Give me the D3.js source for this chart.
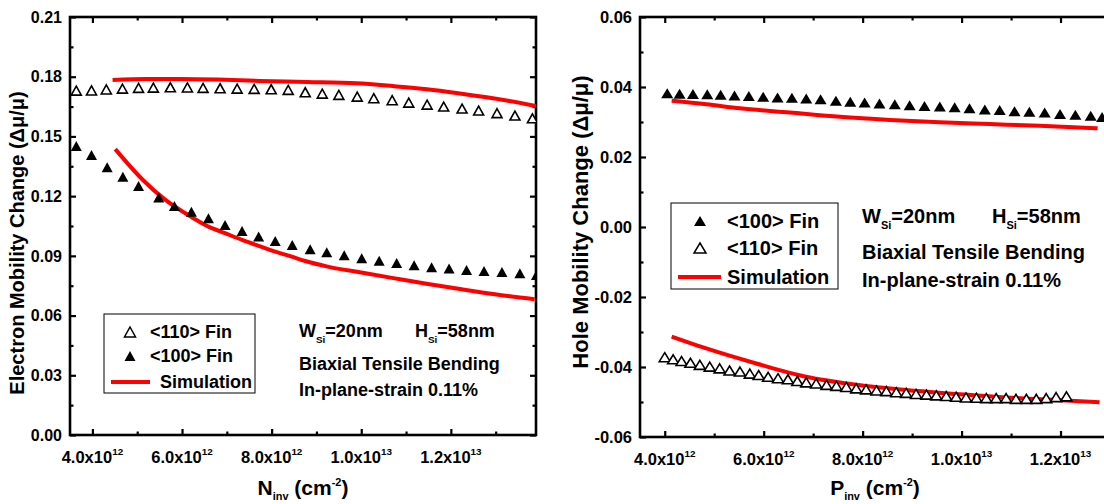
<!DOCTYPE html>
<html><head><meta charset="utf-8">
<script src="https://cdn.jsdelivr.net/npm/d3@7"></script>
<style>
body{margin:0;background:#fff;}
svg{display:block;font-family:"Liberation Sans",Arial,Helvetica,sans-serif;font-weight:bold;}
</style></head>
<body><svg id="c" width="1104" height="504"></svg>
<script>
// ---------------- DATA ----------------
const xTicks = [4e12, 6e12, 8e12, 1e13, 1.2e13];
const xTickMantissa = ["4.0x10", "6.0x10", "8.0x10", "1.0x10", "1.2x10"];
const xTickExponent = ["12", "12", "12", "13", "13"];
const xMinorTicks = [5e12, 7e12, 9e12, 1.1e13, 1.3e13];

const leftYTicks = [0.00, 0.03, 0.06, 0.09, 0.12, 0.15, 0.18, 0.21];
const leftYMinor = [0.015, 0.045, 0.075, 0.105, 0.135, 0.165, 0.195];
const rightYTicks = [-0.06, -0.04, -0.02, 0.00, 0.02, 0.04, 0.06];
const rightYMinor = [-0.05, -0.03, -0.01, 0.01, 0.03, 0.05];

// Left panel (electron), x in units of 1e12 cm^-2
const leftOpenX = [3.64,3.98,4.31,4.67,5.03,5.36,5.74,6.12,6.47,6.85,7.23,7.61,7.99,8.37,8.75,9.13,9.50,9.91,10.28,10.69,11.06,11.47,11.84,12.25,12.62,13.03,13.43,13.82];
const leftOpenY = [0.1730,0.1731,0.1736,0.1740,0.1744,0.1745,0.1747,0.1746,0.1744,0.1742,0.1740,0.1739,0.1737,0.1734,0.1722,0.1715,0.1709,0.1700,0.1692,0.1682,0.1670,0.1660,0.1650,0.1640,0.1630,0.1617,0.1605,0.1591];
const leftFilledX = [3.64,3.98,4.33,4.68,5.03,5.48,5.83,6.21,6.59,6.96,7.34,7.71,8.08,8.46,8.86,9.23,9.62,10.01,10.40,10.79,11.18,11.57,11.96,12.35,12.74,13.14,13.54,13.91];
const leftFilledY = [0.1452,0.1407,0.1345,0.1298,0.1251,0.1193,0.1151,0.1121,0.1089,0.1055,0.1025,0.0997,0.0975,0.0955,0.0933,0.0918,0.0903,0.0888,0.0876,0.0864,0.0853,0.0843,0.0836,0.0829,0.0824,0.0819,0.0813,0.0804];
const leftSimUpperX = [4.45,5.2,5.96,6.8,7.74,8.8,9.9,10.7,11.47,12.2,12.94,13.9];
const leftSimUpperY = [0.1784,0.1788,0.1789,0.1786,0.1779,0.1774,0.1767,0.1753,0.1737,0.1716,0.1692,0.1653];
const leftSimLowerX = [4.51,5.11,5.63,6.22,6.59,6.96,7.34,7.71,8.08,8.45,8.75,9.25,10.0,10.75,11.49,12.24,12.98,13.87];
const leftSimLowerY = [0.1436,0.1285,0.1181,0.1094,0.1047,0.1014,0.0980,0.0950,0.0921,0.0896,0.0874,0.0846,0.0816,0.0787,0.0759,0.0732,0.0707,0.0682];

// Right panel (hole)
const rightFilledX = [4.05,4.30,4.57,4.86,5.13,5.41,5.70,5.99,6.28,6.57,6.86,7.15,7.46,7.75,8.04,8.34,8.65,8.95,9.25,9.56,9.86,10.16,10.47,10.77,11.07,11.37,11.68,11.99,12.30,12.61,12.84];
const rightFilledY = [0.0382,0.0381,0.0380,0.0379,0.0378,0.0376,0.0374,0.0372,0.0370,0.0369,0.0367,0.0365,0.0361,0.0358,0.0356,0.0353,0.0351,0.0348,0.0346,0.0344,0.0342,0.0339,0.0336,0.0334,0.0331,0.0329,0.0327,0.0323,0.0321,0.0318,0.0314];
const rightOpenX = [4.00,4.17,4.34,4.52,4.71,4.91,5.11,5.31,5.52,5.72,5.90,6.09,6.29,6.49,6.68,6.86,7.06,7.27,7.47,7.67,7.87,8.07,8.28,8.48,8.68,8.88,9.08,9.29,9.49,9.69,9.89,10.09,10.30,10.50,10.70,10.90,11.10,11.31,11.51,11.71,11.91,12.12];
const rightOpenY = [-0.0372,-0.0378,-0.0383,-0.0388,-0.0394,-0.0399,-0.0404,-0.0410,-0.0413,-0.0419,-0.0423,-0.0428,-0.0432,-0.0435,-0.0440,-0.0444,-0.0447,-0.0451,-0.0454,-0.0457,-0.0461,-0.0464,-0.0467,-0.0469,-0.0472,-0.0474,-0.0477,-0.0479,-0.0481,-0.0483,-0.0485,-0.0487,-0.0488,-0.0489,-0.0489,-0.0489,-0.0491,-0.0491,-0.0491,-0.0489,-0.0486,-0.0484];
const rightSimUpperX = [4.14,4.84,5.52,6.53,7.54,8.55,9.56,10.57,11.58,12.75];
const rightSimUpperY = [0.0361,0.0351,0.0339,0.0327,0.0315,0.0306,0.0299,0.0294,0.0289,0.0282];
const rightSimLowerX = [4.14,4.84,5.85,6.86,7.87,8.88,9.89,10.90,11.91,12.79];
const rightSimLowerY = [-0.0313,-0.0347,-0.0390,-0.0428,-0.0451,-0.0466,-0.0477,-0.0487,-0.0494,-0.0501];

const legendLeft = ["<110> Fin", "<100> Fin", "Simulation"];
const legendRight = ["<100> Fin", "<110> Fin", "Simulation"];
const noteLine2 = "Biaxial Tensile Bending";
const noteLine3 = "In-plane-strain 0.11%";

// ---------------- DRAW ----------------
const svg = d3.select("#c");
const RED = "#ff0000";
const E12 = 1e12;

function triPath(w, h) {
  return `M0,${-h/2}L${w/2},${h/2}L${-w/2},${h/2}Z`;
}

function drawPanel(p) {
  const x = d3.scaleLinear().domain(p.xDomain).range([p.left, p.right]);
  const y = d3.scaleLinear().domain(p.yDomain).range([p.bottom, p.top]);
  const g = svg.append("g");
  const fs = p.tickFont;

  // inward ticks, all four sides
  const majorLen = 6, minorLen = 3.5;
  const mk = (axis, tr, vals, len) => {
    const a = g.append("g").attr("transform", tr)
      .call(axis.tickValues(vals).tickSize(-len).tickSizeOuter(0).tickFormat(""));
    a.select(".domain").remove();
    a.selectAll("line").attr("stroke", "#000").attr("stroke-width", 2.2);
  };
  mk(d3.axisBottom(x), `translate(0,${p.bottom})`, xTicks, majorLen);
  mk(d3.axisBottom(x), `translate(0,${p.bottom})`, xMinorTicks, minorLen);
  mk(d3.axisTop(x), `translate(0,${p.top})`, xTicks, majorLen);
  mk(d3.axisTop(x), `translate(0,${p.top})`, xMinorTicks, minorLen);
  mk(d3.axisLeft(y), `translate(${p.left},0)`, p.yTicks, majorLen);
  mk(d3.axisLeft(y), `translate(${p.left},0)`, p.yMinor, minorLen);
  mk(d3.axisRight(y), `translate(${p.right},0)`, p.yTicks, majorLen);
  mk(d3.axisRight(y), `translate(${p.right},0)`, p.yMinor, minorLen);

  // frame
  g.append("rect").attr("x", p.left).attr("y", p.top)
    .attr("width", p.right - p.left).attr("height", p.bottom - p.top)
    .attr("fill", "none").attr("stroke", "#000").attr("stroke-width", 2.6);

  // y tick labels
  g.selectAll(".yl").data(p.yTicks).join("text")
    .attr("x", p.left - 8).attr("y", d => y(d) + fs * 0.36)
    .attr("text-anchor", "end").attr("font-size", fs)
    .text(d => d3.format(".2f")(d).replace("−", "-"));

  // x tick labels with superscripts
  const xfs = p.xTickFont;
  xTicks.forEach((v, i) => {
    const t = g.append("text").attr("x", x(v)).attr("y", p.bottom + 28)
      .attr("text-anchor", "middle").attr("font-size", xfs);
    t.append("tspan").text(xTickMantissa[i]);
    t.append("tspan").attr("font-size", xfs * 0.6).attr("dy", -xfs * 0.5).text(xTickExponent[i]);
  });

  // axis titles
  const xt = g.append("text").attr("x", (p.left + p.right) / 2).attr("y", p.xTitleY)
    .attr("text-anchor", "middle").attr("font-size", p.xTitleFont);
  xt.append("tspan").text(p.xTitleLetter);
  xt.append("tspan").attr("font-size", p.xTitleFont * 0.52).attr("dy", 5).text("inv");
  xt.append("tspan").attr("dy", -5).text(" (cm");
  xt.append("tspan").attr("font-size", p.xTitleFont * 0.52).attr("dy", -9).text("-2");
  xt.append("tspan").attr("dy", 9).text(")");

  g.append("text").attr("transform", `translate(${p.yTitleX},${p.yTitleY}) rotate(-90)`)
    .attr("text-anchor", "middle").attr("font-size", p.titleFont).text(p.yTitle);

  // clip
  const cid = "clip" + p.id;
  svg.append("clipPath").attr("id", cid).append("rect")
    .attr("x", p.left).attr("y", p.top).attr("width", p.right - p.left).attr("height", p.bottom - p.top);
  const plot = g.append("g").attr("clip-path", `url(#${cid})`);

  const line = d3.line().curve(d3.curveMonotoneX).x(d => x(d[0] * E12)).y(d => y(d[1]));
  p.sims.forEach(s => {
    plot.append("path").datum(d3.zip(s[0], s[1])).attr("d", line)
      .attr("fill", "none").attr("stroke", RED).attr("stroke-width", 4);
  });
  p.filled.forEach(s => {
    plot.selectAll(null).data(d3.zip(s[0], s[1])).join("path")
      .attr("d", triPath(s[2], s[3]))
      .attr("transform", d => `translate(${x(d[0] * E12)},${y(d[1])})`)
      .attr("fill", "#000");
  });
  p.open.forEach(s => {
    plot.selectAll(null).data(d3.zip(s[0], s[1])).join("path")
      .attr("d", triPath(s[2], s[3]))
      .attr("transform", d => `translate(${x(d[0] * E12)},${y(d[1])})`)
      .attr("fill", "#fff").attr("stroke", "#000").attr("stroke-width", 1.6);
  });

  // legend
  const L = p.legend;
  g.append("rect").attr("x", L.x).attr("y", L.y).attr("width", L.w).attr("height", L.h)
    .attr("fill", "#fff").attr("stroke", "#000").attr("stroke-width", 1);
  L.items.forEach((it, i) => {
    const cy = L.rows[i];
    if (it.kind === "line") {
      g.append("line").attr("x1", L.lx1).attr("x2", L.lx2).attr("y1", cy).attr("y2", cy)
        .attr("stroke", RED).attr("stroke-width", 4);
    } else {
      g.append("path").attr("d", triPath(L.sw, L.sh))
        .attr("transform", `translate(${L.sx},${cy})`)
        .attr("fill", it.kind === "filled" ? "#000" : "#fff")
        .attr("stroke", it.kind === "filled" ? "none" : "#000").attr("stroke-width", 1.5);
    }
    g.append("text").attr("x", it.kind === "line" ? L.tx2 : L.tx).attr("y", cy + L.fs * 0.36)
      .attr("font-size", L.fs).text(it.label);
  });

  // annotation
  const N = p.note;
  const w = g.append("text").attr("x", N.x).attr("y", N.y1).attr("font-size", N.fs);
  w.append("tspan").text("W");
  w.append("tspan").attr("font-size", N.fs * 0.55).attr("dy", 6).text("Si");
  w.append("tspan").attr("dy", -6).text("=20nm");
  const h = g.append("text").attr("x", N.hx).attr("y", N.y1).attr("font-size", N.fs);
  h.append("tspan").text("H");
  h.append("tspan").attr("font-size", N.fs * 0.55).attr("dy", 6).text("Si");
  h.append("tspan").attr("dy", -6).text("=58nm");
  g.append("text").attr("x", N.x).attr("y", N.y2).attr("font-size", N.fs).text(noteLine2);
  g.append("text").attr("x", N.x).attr("y", N.y3).attr("font-size", N.fs).text(noteLine3);
}

drawPanel({
  id: "L", left: 70, right: 536, top: 17, bottom: 435,
  xDomain: [3.5e12, 1.39e13], yDomain: [0, 0.21],
  yTicks: leftYTicks, yMinor: leftYMinor, tickFont: 16, xTickFont: 16.5, titleFont: 20, xTitleFont: 21,
  xTitleLetter: "N", xTitleY: 495,
  yTitle: "Electron Mobility Change (\u0394\u03bc/\u03bc)", yTitleX: 24, yTitleY: 243,
  sims: [[leftSimUpperX, leftSimUpperY], [leftSimLowerX, leftSimLowerY]],
  filled: [[leftFilledX, leftFilledY, 11, 10]],
  open: [[leftOpenX, leftOpenY, 10, 9]],
  legend: { x: 104, y: 314, w: 151, h: 79, sx: 130, sw: 11, sh: 10, tx: 150, tx2: 160, lx1: 111, lx2: 150,
    rows: [332, 356, 382], fs: 18,
    items: [{kind: "open", label: legendLeft[0]}, {kind: "filled", label: legendLeft[1]}, {kind: "line", label: legendLeft[2]}] },
  note: { x: 299, hx: 415, y1: 337, y2: 370, y3: 396, fs: 18 }
});

drawPanel({
  id: "R", left: 640, right: 1110, top: 17, bottom: 437,
  xDomain: [3.5e12, 1.3e13], yDomain: [-0.06, 0.06],
  yTicks: rightYTicks, yMinor: rightYMinor, tickFont: 16.5, xTickFont: 16.5, titleFont: 22, xTitleFont: 21,
  xTitleLetter: "P", xTitleY: 495,
  yTitle: "Hole Mobility Change (\u0394\u03bc/\u03bc)", yTitleX: 588, yTitleY: 222,
  sims: [[rightSimUpperX, rightSimUpperY], [rightSimLowerX, rightSimLowerY]],
  filled: [[rightFilledX, rightFilledY, 12, 10]],
  open: [[rightOpenX, rightOpenY, 11, 9]],
  legend: { x: 671, y: 203, w: 167, h: 86, sx: 700, sw: 12, sh: 10, tx: 727, tx2: 727, lx1: 678, lx2: 721,
    rows: [221, 248, 277], fs: 20,
    items: [{kind: "filled", label: legendRight[0]}, {kind: "open", label: legendRight[1]}, {kind: "line", label: legendRight[2]}] },
  note: { x: 862, hx: 992, y1: 223, y2: 259, y3: 287, fs: 20 }
});
</script>
</body></html>
